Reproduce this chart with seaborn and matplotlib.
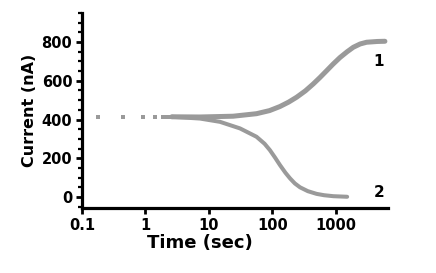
import pandas as pd
import matplotlib.pyplot as plt
from matplotlib.ticker import FixedLocator, MultipleLocator, FixedFormatter
import seaborn as sns

# sampled early points (drawn as separate dots)
dot_time = [0.18, 0.44, 0.91, 1.41, 1.89, 2.2, 2.45]
dot_curr = [415, 415, 415, 415, 415, 415, 415]

# curve 1 (rising)
c1_time = [2.6, 7.2, 24, 56, 90, 131, 180, 240, 330, 440, 560, 713, 900,
           1156, 1500, 1875, 2400, 3040, 4500, 5900]
c1_curr = [414, 413, 417, 430, 446, 467, 490, 515, 548, 584, 617, 652, 686,
           720, 750, 773, 790, 799, 803, 804]

# curve 2 (falling)
c2_time = [2.6, 7.2, 14.9, 30.8, 56, 75, 91, 110, 131, 160, 189, 225, 271,
           360, 495, 650, 908, 1500]
c2_curr = [414, 405, 388, 354, 311, 275, 242, 203, 165, 125, 96, 70, 50,
           30, 16, 9, 4, 1]

GRAY = '#9a9a9a'

sns.set_theme(style='ticks')
plt.rcParams['font.family'] = ['DejaVu Sans']
plt.rcParams['font.weight'] = 'bold'

fig = plt.figure(figsize=(4.36, 2.73), dpi=100)
ax = fig.add_axes([82 / 436, 1 - 208 / 273, (388 - 82) / 436, (208 - 13) / 273])

df1 = pd.DataFrame({'t': c1_time, 'I': c1_curr})
df2 = pd.DataFrame({'t': c2_time, 'I': c2_curr})
dfd = pd.DataFrame({'t': dot_time, 'I': dot_curr})

sns.lineplot(data=df1, x='t', y='I', ax=ax, color=GRAY, lw=3.6, estimator=None,
             solid_joinstyle='round', solid_capstyle='round')
sns.lineplot(data=df2, x='t', y='I', ax=ax, color=GRAY, lw=2.9, estimator=None,
             solid_joinstyle='round', solid_capstyle='round')
sns.scatterplot(data=dfd, x='t', y='I', ax=ax, color=GRAY, marker='s', s=12, linewidth=0)

ax.set_xscale('log')
ax.set_xlim(0.1, 6600)
ax.set_ylim(-57, 950)

ax.xaxis.set_major_locator(FixedLocator([0.1, 1, 10, 100, 1000]))
ax.xaxis.set_major_formatter(FixedFormatter(['0.1', '1', '10', '100', '1000']))
ax.xaxis.set_minor_locator(FixedLocator([]))
ax.yaxis.set_major_locator(FixedLocator([0, 200, 400, 600, 800]))
ax.yaxis.set_minor_locator(MultipleLocator(50))

for s in ['left', 'bottom']:
    ax.spines[s].set_linewidth(2.3)
    ax.spines[s].set_color('black')
sns.despine(ax=ax)

ax.tick_params(axis='both', which='major', length=4, width=2, color='black',
               labelsize=10.5, pad=3, labelcolor='black')
ax.tick_params(axis='y', which='minor', length=3, width=1.6, color='black')
for lab in ax.get_xticklabels() + ax.get_yticklabels():
    lab.set_fontweight('bold')

ax.set_xlabel('Time (sec)', fontsize=13, fontweight='bold', labelpad=1, color='black')
ax.xaxis.label.set_x(0.386)
ax.set_ylabel('Current (nA)', fontsize=11.5, fontweight='bold', labelpad=3, color='black')

ax.text(0.97, 0.75, '1', transform=ax.transAxes, fontsize=11, fontweight='bold',
        ha='center', va='center', color='black')
ax.text(0.97, 0.077, '2', transform=ax.transAxes, fontsize=11, fontweight='bold',
        ha='center', va='center', color='black')

fig.savefig('out.png', dpi=100, facecolor='white')
